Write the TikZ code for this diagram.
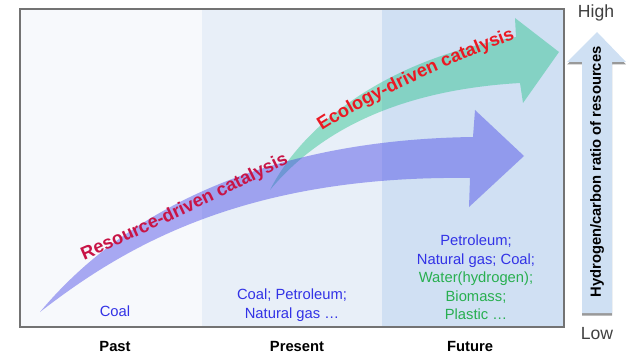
\documentclass[tikz,border=0pt]{standalone}
\usepackage{fontspec}
\setmainfont{Liberation Sans}
\usepackage{tikz}
\usetikzlibrary{decorations.text}
\definecolor{pastbg}{RGB}{247,249,252}
\definecolor{presentbg}{RGB}{232,239,248}
\definecolor{futurebg}{RGB}{208,224,243}
\definecolor{resblue}{RGB}{70,70,230}
\definecolor{ecogreen}{RGB}{40,195,140}
\definecolor{fuelblue}{RGB}{50,50,230}
\definecolor{fuelgreen}{RGB}{40,175,80}
\definecolor{ecored}{RGB}{235,25,35}
\definecolor{rescrimson}{RGB}{200,20,70}
\definecolor{ratiobg}{RGB}{207,224,243}
\tikzset{
  fuel/.style={font=\fontsize{10.5}{13.2}\selectfont, align=center, inner sep=0pt},
  era/.style={font=\bfseries\fontsize{10.5}{13}\selectfont, inner sep=0pt},
  level/.style={font=\fontsize{12.5}{15}\selectfont, text=black!75, inner sep=0pt},
}

\begin{document}
\begin{tikzpicture}[x=0.025cm, y=-0.025cm]
\useasboundingbox (0,0) rectangle (636,360);
% panels
\fill[pastbg] (20,9) rectangle (202,327);
\fill[presentbg] (202,9) rectangle (382,327);
\fill[futurebg] (382,9) rectangle (564,327);
\draw[black!55, line width=1pt] (20,9) rectangle (564,327);
%
\coordinate (restail) at (40,312);
\coordinate (restip) at (524,156);
\coordinate (ecotail) at (270,190);
\coordinate (ecotip) at (559,52);
\fill[ecogreen, fill opacity=0.45] (ecotail) .. controls (300,130) and (380,60) .. (516,37)
  -- (515,18) -- (ecotip) -- (523,103) -- (520,83) .. controls (400,90) and (320,130) .. (ecotail) -- cycle;
\fill[resblue, fill opacity=0.45] (restail) .. controls (115,222) and (250,140) .. (473,137)
  -- (475,110) -- (restip) -- (469,207) -- (470,178) .. controls (240,175) and (120,250) .. (restail) -- cycle;
%
\path[decorate, decoration={text along path, text align=left,
  text={|\color{rescrimson}\bfseries\fontsize{13}{15}\selectfont|Resource-driven catalysis}}]
  (84,260) .. controls (135,238) and (205,205) .. (295,160);
\path[decorate, decoration={text along path, text align=left,
  text={|\color{ecored}\bfseries\fontsize{13}{15}\selectfont|Ecology-driven catalysis}}]
  (322,131) .. controls (370,100) and (445,65) .. (520,37);
%
\node[fuel, text=fuelblue] (pastfuel) at (115,311) {Coal};
\node[fuel, text=fuelblue] (presentfuel) at (292,305) {Coal; Petroleum;\\Natural gas …};
\node[fuel] (futurefuel) at (476,277.5) {\textcolor{fuelblue}{Petroleum;}\\\textcolor{fuelblue}{Natural gas; Coal;}\\\textcolor{fuelgreen}{Water(hydrogen);}\\\textcolor{fuelgreen}{Biomass;}\\\textcolor{fuelgreen}{Plastic …}};
%
\node[era] (past) at (115,346) {Past};
\node[era] (present) at (297,346) {Present};
\node[era] (future) at (470,346) {Future};
%
\fill[black!40] (582,315.5) -- (612,315.5) -- (612,64.5) -- (626,64.5) -- (597,34.5) -- (567,64.5) -- (582,64.5) -- cycle;
\fill[ratiobg] (582,313) -- (612,313) -- (612,62) -- (626,62) -- (597,32) -- (567,62) -- (582,62) -- cycle;
\node[era, rotate=90] (ratio) at (597,172) {Hydrogen/carbon ratio of resources};
\node[level] (high) at (596,13) {High};
\node[level] (low) at (597,334) {Low};
\end{tikzpicture}
\end{document}
